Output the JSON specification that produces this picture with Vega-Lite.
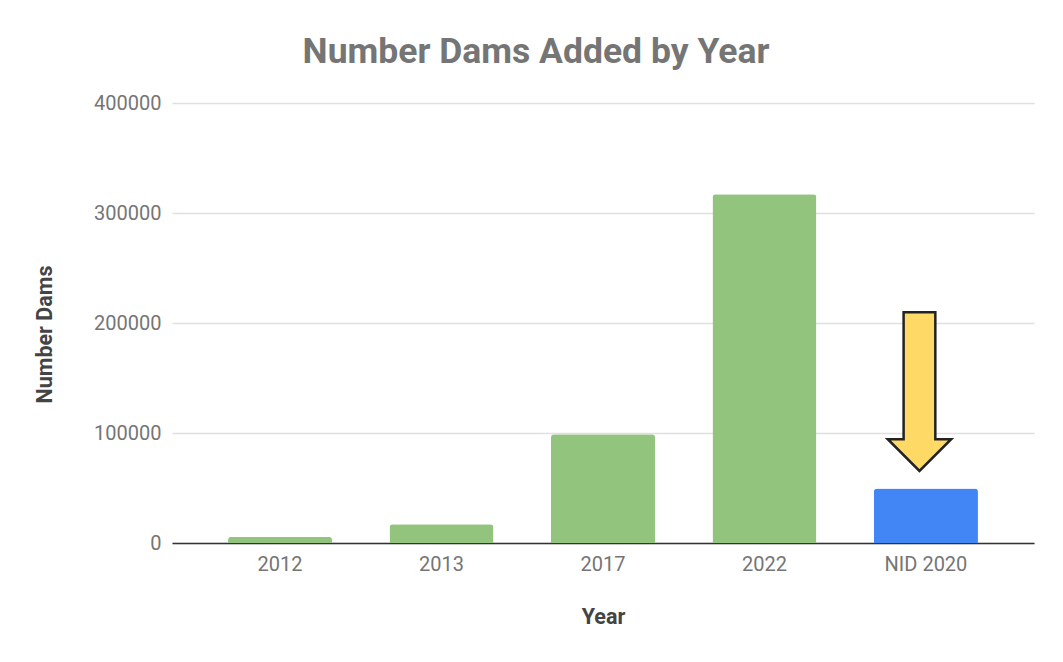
{
  "$schema": "https://vega.github.io/schema/vega-lite/v6.json",
  "autosize": "none",
  "width": 862,
  "height": 440,
  "padding": {"left": 172, "top": 103, "right": 29, "bottom": 119},
  "background": "#ffffff",
  "config": {"view": {"stroke": null}, "font": "Roboto"},
  "title": {
    "text": "Number Dams Added by Year",
    "font": "Roboto",
    "fontSize": 35.5,
    "fontWeight": "bold",
    "color": "#757575",
    "anchor": "middle",
    "dx": -67,
    "offset": 23
  },
  "layer": [
    {
      "data": {"values": [
        {"Year": "2012", "Dams": 5500, "Kind": "year"},
        {"Year": "2013", "Dams": 17000, "Kind": "year"},
        {"Year": "2017", "Dams": 98800, "Kind": "year"},
        {"Year": "2022", "Dams": 317000, "Kind": "year"},
        {"Year": "NID 2020", "Dams": 49500, "Kind": "nid"}
      ]},
      "mark": {"type": "bar", "cornerRadiusTopLeft": 3, "cornerRadiusTopRight": 3},
      "encoding": {
        "x": {
          "field": "Year", "type": "nominal", "sort": null,
          "scale": {"paddingInner": 0.356, "paddingOuter": 0.347},
          "axis": {
            "title": "Year", "labelAngle": 0, "ticks": false,
            "labelFont": "Roboto", "labelFontSize": 20, "labelColor": "#757575", "labelPadding": 11,
            "domainColor": "#333333", "domainWidth": 1.5,
            "titleFont": "Roboto", "titleFontSize": 21.5, "titleFontWeight": "bold", "titleColor": "#444444",
            "titleY": 74, "titleBaseline": "middle"
          }
        },
        "y": {
          "field": "Dams", "type": "quantitative",
          "scale": {"domain": [0, 400000]},
          "axis": {
            "title": "Number Dams", "values": [0, 100000, 200000, 300000, 400000], "format": "d",
            "ticks": false, "domain": false,
            "gridColor": "#e0e0e0", "gridWidth": 1.5,
            "labelFont": "Roboto", "labelFontSize": 20, "labelColor": "#757575", "labelPadding": 11,
            "titleFont": "Roboto", "titleFontSize": 21.5, "titleFontWeight": "bold", "titleColor": "#444444",
            "titleX": -127, "titleY": 231, "titleAngle": -90, "titleBaseline": "middle"
          }
        },
        "color": {
          "field": "Kind", "type": "nominal",
          "scale": {"domain": ["year", "nid"], "range": ["#93c47d", "#4285f4"]},
          "legend": null
        }
      }
    },
    {
      "data": {"values": [{"Year": "NID 2020", "Dams": 137600}]},
      "mark": {
        "type": "point",
        "shape": "M-0.2,-1L0.2,-1L0.2,0.6L0.4,0.6L0,1L-0.4,0.6L-0.2,0.6Z",
        "size": 25154,
        "filled": true,
        "fill": "#ffd966",
        "fillOpacity": 1,
        "opacity": 1,
        "stroke": "#222222",
        "strokeWidth": 2.5,
        "xOffset": -6.5
      },
      "encoding": {
        "x": {"field": "Year", "type": "nominal", "sort": null},
        "y": {"field": "Dams", "type": "quantitative"}
      }
    }
  ]
}
